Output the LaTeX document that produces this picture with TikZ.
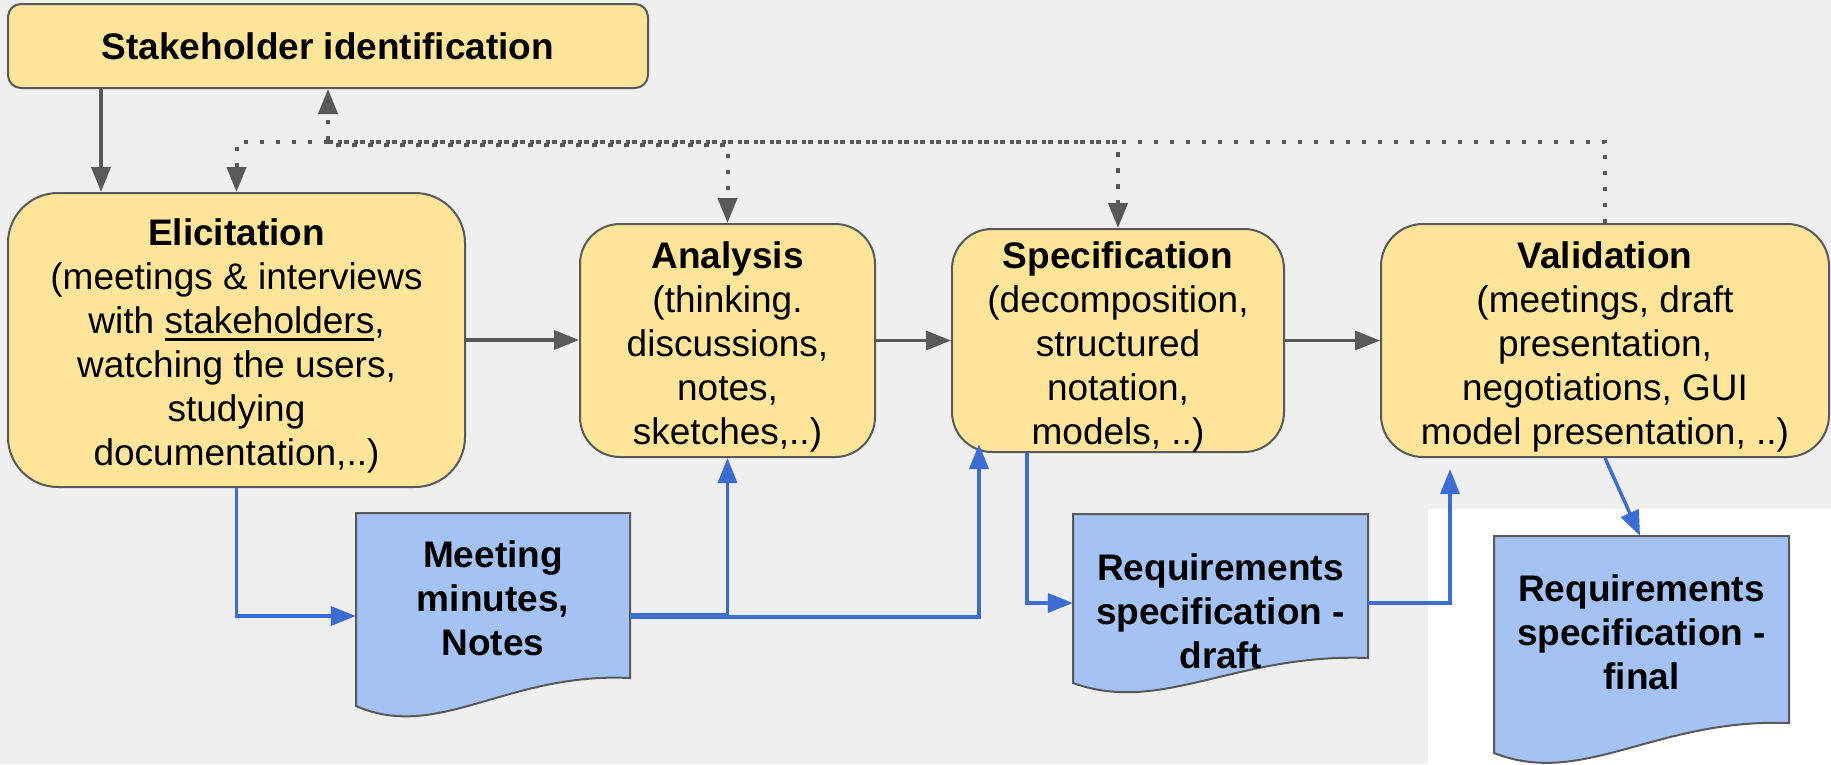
\documentclass[tikz,border=0pt]{standalone}
\usepackage{fontspec}
\setmainfont{Liberation Sans}
\usetikzlibrary{arrows.meta,calc}

\definecolor{bg}{HTML}{EFEFEF}
\definecolor{stagefill}{HTML}{FFE599}
\definecolor{docfill}{HTML}{A4C2F4}
\definecolor{edge}{HTML}{595959}
\definecolor{flow}{HTML}{3C6DD2}

% underlined word with a thick rule just below the baseline
\newcommand\thickul[1]{\setbox0\hbox{#1}\rlap{\rule[-7pt]{\wd0}{2.5pt}}\box0}
% taller first line, so the text block sits a little lower in its box
\newcommand\firstline{\rule{0pt}{39pt}}

\tikzset{
  stage/.style={draw=edge, line width=2pt, fill=stagefill, inner sep=0pt,
    align=center, font=\fontsize{37}{44}\selectfont},
  docframe/.style={inner sep=0pt},
  doctext/.style={inner sep=0pt, align=center, font=\bfseries\fontsize{37}{44}\selectfont},
  docline/.style={draw=edge, line width=2pt, fill=docfill},
  tip/.style={-{Triangle[length=25pt,width=19pt]}},
  grayarrow/.style={draw=edge, line width=3.4pt, tip},
  dotarrow/.style={draw=edge, line width=4pt, dash pattern=on 4.5pt off 11.5pt, tip},
  bluearrow/.style={draw=flow, line width=3.4pt, tip},
}

\begin{document}
\begin{tikzpicture}[x=1pt,y=-1pt]
\useasboundingbox (0,0) rectangle (1831,764);
\fill[bg] (0,0) rectangle (1831,764);
\fill[white] (1428,509) rectangle (1831,764);

% process stages
\node[stage, rounded corners=13pt, minimum width=640pt, minimum height=84pt]
  (sh) at (328,46) {\bfseries Stakeholder identification};
\node[stage, rounded corners=50pt, minimum width=457pt, minimum height=294pt]
  (el) at (236.5,340) {\firstline\textbf{Elicitation}\\(meetings \& interviews\\with \thickul{stakeholders},\\watching the users,\\studying\\documentation,..)};
\node[stage, rounded corners=40pt, minimum width=295pt, minimum height=233pt]
  (an) at (727.5,340.5) {\firstline\textbf{Analysis}\\(thinking.\\discussions,\\notes,\\sketches,..)};
\node[stage, rounded corners=40pt, minimum width=332pt, minimum height=223pt]
  (sp) at (1118,340.5) {\firstline\textbf{Specification}\\(decomposition,\\structured\\notation,\\models, ..)};
\node[stage, rounded corners=42pt, minimum width=448pt, minimum height=233pt]
  (va) at (1605,340.5) {\firstline\textbf{Validation}\\(meetings, draft\\presentation,\\negotiations, GUI\\model presentation, ..)};

% documents
\path[docline] (356,513) -- (630,513) -- (630,678)
  .. controls (506.7,672) and (438.2,742) .. (356,706) -- cycle;
\node[docframe, minimum width=274pt, minimum height=206pt] (mm) at (493,616) {};
\node[doctext] (mmt) at (493,598) {Meeting\\minutes,\\Notes};

\path[docline] (1073,514) -- (1368,514) -- (1368,658)
  .. controls (1235.25,653) and (1161.5,715) .. (1073,683) -- cycle;
\node[docframe, minimum width=295pt, minimum height=178pt] (dr) at (1220.5,603) {};
\node[doctext] (drt) at (1220.5,611) {Requirements\\specification -\\draft};

\path[docline] (1494,536) -- (1789,536) -- (1789,723)
  .. controls (1656.25,718) and (1582.5,788) .. (1494,753) -- cycle;
\node[docframe, minimum width=295pt, minimum height=227pt] (fn) at (1641.5,649.5) {};
\node[doctext] (fnt) at (1641.5,632) {Requirements\\specification -\\final};

% main flow
\draw[grayarrow] ([xshift=94pt]sh.south west) -- ([xshift=94pt]el.north west);
\draw[grayarrow] (el.east) -- (el.east -| an.west);
\draw[grayarrow] (an.east) -- (an.east -| sp.west);
\draw[grayarrow] (sp.east) -- (sp.east -| va.west);

% feedback to stakeholder identification
\coordinate (bus) at (328,142);
\coordinate (bus2) at (328,145);
\draw[dotarrow] (va.north) |- (bus) -- (sh.south);
\draw[dotarrow] (bus) -| (el.north);
\draw[dotarrow, dash phase=8pt] (bus2) -| (an.north);
\draw[dotarrow] (bus) -| (sp.north);

% documents produced and consumed
\draw[bluearrow] (el.south) |- (mm.west);
\draw[bluearrow] ([yshift=1pt]mm.east) -| (an.south);
\draw[bluearrow] ([yshift=-1pt]mm.east) -| ([xshift=28pt,yshift=9pt]sp.south west);
\draw[bluearrow] ([xshift=76pt]sp.south west) |- (dr.west);
\draw[bluearrow] (dr.east) -| ([xshift=70pt,yshift=-11pt]va.south west);
\draw[bluearrow] (va.south) -- ([xshift=-1.5pt]fn.north);
\end{tikzpicture}
\end{document}
